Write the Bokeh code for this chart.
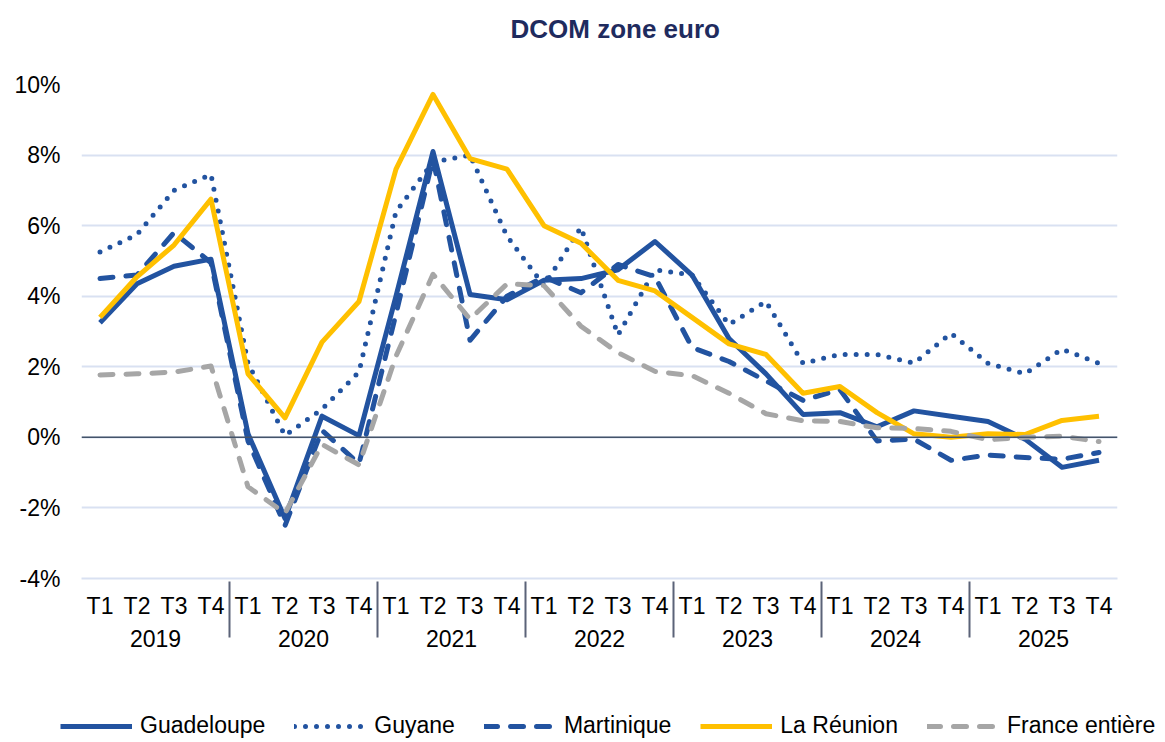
from bokeh.plotting import figure
from bokeh.layouts import column
from bokeh.models import (FactorRange, PrintfTickFormatter, Span, Legend, LegendItem, FixedTicker,
                          Label, Range1d)
from bokeh.embed import file_html
from bokeh.resources import INLINE

years = ["2019", "2020", "2021", "2022", "2023", "2024", "2025"]
quarters = ["T1", "T2", "T3", "T4"]
factors = [(y, q) for y in years for q in quarters]

guadeloupe = [3.25, 4.35, 4.85, 5.05, 0.1, -2.3, 0.6, 0.05, 4.0, 8.1, 4.05, 3.9, 4.45, 4.5, 4.75, 5.55,
              4.6, 2.8, 1.8, 0.65, 0.7, 0.3, 0.75, 0.6, 0.45, -0.05, -0.85, -0.65]
guyane = [5.25, 5.75, 7.0, 7.45, 2.1, 0.05, 0.8, 1.85, 6.4, 7.8, 8.0, 5.7, 4.3, 5.95, 2.9, 4.75,
          4.6, 3.2, 3.85, 2.1, 2.35, 2.35, 2.1, 2.95, 2.1, 1.8, 2.5, 2.1]
martinique = [4.5, 4.6, 5.8, 4.95, -0.1, -2.5, 0.2, -0.75, 3.5, 7.9, 2.75, 4.0, 4.55, 4.1, 4.9, 4.55,
              2.55, 2.15, 1.6, 1.05, 1.35, -0.1, -0.05, -0.65, -0.5, -0.57, -0.62, -0.43]
reunion = [3.4, 4.55, 5.45, 6.75, 1.8, 0.55, 2.7, 3.85, 7.6, 9.72, 7.9, 7.6, 6.0, 5.5, 4.45, 4.15,
           3.4, 2.65, 2.35, 1.25, 1.44, 0.7, 0.1, 0.0, 0.1, 0.08, 0.48, 0.6]
france = [1.77, 1.8, 1.85, 2.02, -1.4, -2.15, -0.2, -0.78, 2.3, 4.62, 3.35, 4.35, 4.3, 3.15, 2.4, 1.87,
          1.75, 1.25, 0.67, 0.47, 0.45, 0.27, 0.25, 0.17, -0.07, 0.0, 0.03, -0.12]

series_names = ["Guadeloupe", "Guyane", "Martinique", "La Réunion", "France entière"]
series_values = [guadeloupe, guyane, martinique, reunion, france]
series_colors = ["#2253A0", "#2253A0", "#2253A0", "#FFC000", "#A6A6A6"]
series_dash = ["solid", "0 11", "13 13", "solid", "13 13"]
series_cap = ["butt", "round", "round", "butt", "round"]

TITLE = "DCOM zone euro"
FONT = "Liberation Sans"
W = 1162


def no_align(fig):
    if "frame_align" in fig.properties():
        fig.frame_align = False


# ---- title strip
tfig = figure(width=W, height=56, output_backend="svg", toolbar_location=None,
              x_axis_type=None, y_axis_type=None, x_range=Range1d(0, 1), y_range=Range1d(0, 1),
              min_border_left=0, min_border_right=0, min_border_top=0, min_border_bottom=0)
tfig.outline_line_color = None
tfig.grid.grid_line_color = None
no_align(tfig)
tfig.add_layout(Label(x=510, y=28, x_units="screen", y_units="screen", text=TITLE,
                      text_font=FONT, text_font_size="26px", text_font_style="bold",
                      text_color="#1F2B5E", text_align="left", text_baseline="middle"))

# ---- main chart
p = figure(x_range=FactorRange(*factors, range_padding=0, group_padding=0, factor_padding=0),
           y_range=(-4, 10),
           width=W, height=612,
           output_backend="svg", toolbar_location=None,
           min_border_left=81, min_border_right=W - 81 - 1036, min_border_top=28, min_border_bottom=90)
no_align(p)

p.outline_line_color = None
p.background_fill_color = "white"
p.border_fill_color = "white"

p.xgrid.grid_line_color = None
p.ygrid.grid_line_color = "#D9E1F2"
p.ygrid.grid_line_width = 2
p.yaxis.ticker = FixedTicker(ticks=[-4, -2, 0, 2, 4, 6, 8, 10])
p.yaxis.formatter = PrintfTickFormatter(format="%d%%")
p.yaxis.axis_line_color = None
p.yaxis.major_tick_line_color = None
p.yaxis.minor_tick_line_color = None
p.yaxis.major_label_text_font = FONT
p.yaxis.major_label_text_font_size = "23px"
p.yaxis.major_label_text_color = "black"
p.yaxis.major_label_standoff = 15

xa = p.xaxis[0]
xa.axis_line_color = "#D9E1F2"
xa.axis_line_width = 2
xa.major_tick_line_color = None
xa.minor_tick_line_color = None
xa.major_label_text_font = FONT
xa.major_label_text_font_size = "23px"
xa.major_label_text_color = "black"
xa.group_text_font = FONT
xa.group_text_font_size = "23px"
xa.group_text_color = "black"
xa.group_text_font_style = "normal"
xa.separator_line_color = "#5B6378"
xa.separator_line_width = 2
xa.major_label_standoff = 8

zero = Span(location=0, dimension="width", line_color="#44546A", line_width=1.5)
p.add_layout(zero)

for vals, col, dash, cap in zip(series_values, series_colors, series_dash, series_cap):
    p.line(x=factors, y=vals, line_color=col, line_width=5, line_dash=dash,
           line_cap=cap, line_join="round")

# ---- legend strip
leg = figure(width=W, height=72, output_backend="svg", toolbar_location=None,
             x_axis_type=None, y_axis_type=None, x_range=Range1d(0, 1), y_range=Range1d(0, 1),
             min_border_left=0, min_border_right=0, min_border_top=0, min_border_bottom=0)
leg.outline_line_color = None
leg.grid.grid_line_color = None
no_align(leg)
items = []
for name, col, dash, cap in zip(series_names, series_colors, series_dash, series_cap):
    r = leg.line(x=[float("nan")], y=[float("nan")], line_color=col, line_width=5, line_dash=dash,
                 line_cap=cap, line_join="round")
    items.append(LegendItem(label=name, renderers=[r]))

legend = Legend(items=items, orientation="horizontal", location=(60, 1),
                glyph_width=72, glyph_height=20, label_standoff=8, spacing=29,
                label_text_font=FONT, label_text_font_size="23px", label_text_color="black",
                border_line_color=None, background_fill_alpha=0, margin=0, padding=0)
leg.add_layout(legend)

layout = column(tfig, p, leg, spacing=0)
open("out.html", "w").write(file_html(layout, INLINE))
